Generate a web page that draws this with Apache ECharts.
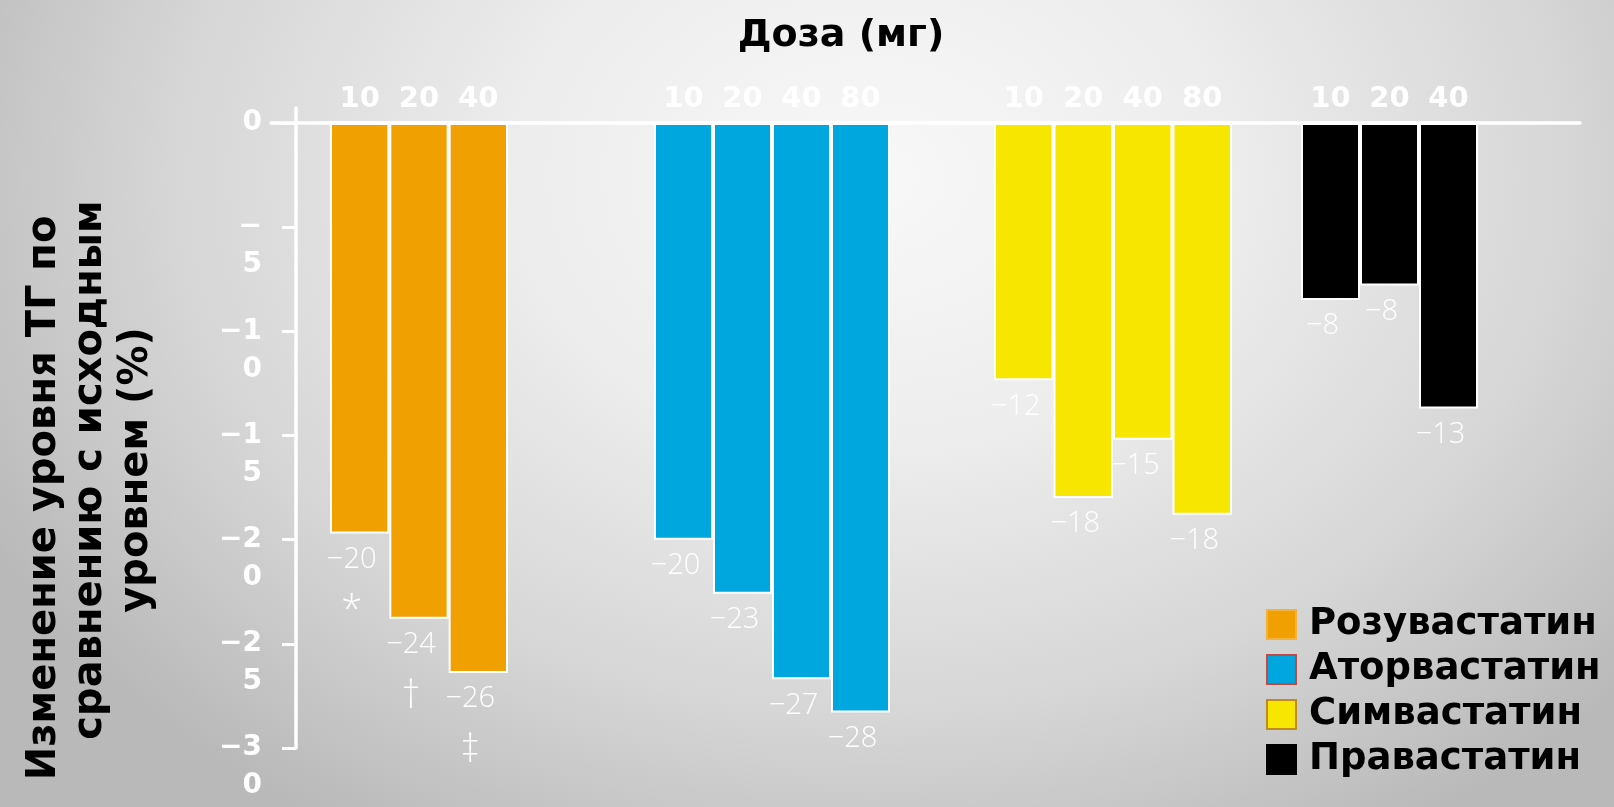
<!DOCTYPE html>
<html>
<head>
<meta charset="utf-8">
<script src="https://cdn.jsdelivr.net/npm/echarts@6/dist/echarts.min.js"></script>
<style>
html,body{margin:0;padding:0;width:1614px;height:807px;overflow:hidden;}
#chart{width:1614px;height:807px;background:radial-gradient(ellipse 62% 95% at 54% 22%, #f8f8f8 0%, #ededed 35%, #d6d6d6 70%, #b9b9b9 100%);}
</style>
</head>
<body>
<div id="chart"></div>
<script>
// ---- data ----
const dosesRosuvastatin = ['10', '20', '40'];
const dosesAtorvastatin = ['10', '20', '40', '80'];
const dosesSimvastatin = ['10', '20', '40', '80'];
const dosesPravastatin = ['10', '20', '40'];

const rosuvastatin = [-19.7, -23.8, -26.4];
const atorvastatin = [-20.0, -22.6, -26.7, -28.3];
const simvastatin = [-12.35, -18.0, -15.2, -18.8];
const pravastatin = [-8.5, -7.8, -13.7];

const labelsRosuvastatin = ['\u221220', '\u221224', '\u221226'];
const marksRosuvastatin = ['*', '\u2020', '\u2021'];
const labelsAtorvastatin = ['\u221220', '\u221223', '\u221227', '\u221228'];
const labelsSimvastatin = ['\u221212', '\u221218', '\u221215', '\u221218'];
const labelsPravastatin = ['\u22128', '\u22128', '\u221213'];

const yTickValues = [0, -5, -10, -15, -20, -25, -30];
const seriesNames = ['Розувастатин', 'Аторвастатин', 'Симвастатин', 'Правастатин'];
const titleText = 'Доза (мг)';
const yAxisTitle = 'Изменение уровня ТГ по\u00a0\u00a0\u00a0\u00a0\nсравнению с исходным\nуровнем (%)';

// ---- styles / layout ----
const colors = ['#f0a000', '#00a7df', '#f7e600', '#000000'];
const legendBorders = ['#f5b23a', '#be4b48', '#c08a1c', '#000000'];
const BOLD = "'DejaVu Sans', Verdana, sans-serif";
const LIGHT = "'Open Sans', 'Noto Sans', sans-serif";
const ZERO_Y = 123, BOTTOM = 59, STUB_TOP = 108;
const YMIN = -30, YMAX = 0, STUB_MAX = 0.72;
const PX_PER_UNIT = (807 - BOTTOM - ZERO_Y) / (YMAX - YMIN);
const TICK_MIN = -30.5; // slightly below -30 so the -30 tick lies inside the extent
const TICK_BOTTOM = BOTTOM - (YMIN - TICK_MIN) * PX_PER_UNIT;
const WRAP_SHIFT = 38;  // second line of the wrapped tick labels

const groups = [
  { name: seriesNames[0], doses: dosesRosuvastatin, values: rosuvastatin, labels: labelsRosuvastatin, marks: marksRosuvastatin, left: 330, width: 178 },
  { name: seriesNames[1], doses: dosesAtorvastatin, values: atorvastatin, labels: labelsAtorvastatin, marks: null, left: 654, width: 236 },
  { name: seriesNames[2], doses: dosesSimvastatin, values: simvastatin, labels: labelsSimvastatin, marks: null, left: 994, width: 238 },
  { name: seriesNames[3], doses: dosesPravastatin, values: pravastatin, labels: labelsPravastatin, marks: null, left: 1301, width: 177 }
];

function tickText(v) { return v === 0 ? '0' : '\u2212' + Math.abs(v); }

// grid 0: axis lines (vertical line runs a little above zero)
// grid 1: y ticks and first line of tick labels
// grid 2: second (wrapped) line of tick labels
const grid = [
  { left: 271, right: 34, top: STUB_TOP, bottom: BOTTOM },
  { left: 271, right: 34, top: ZERO_Y, bottom: TICK_BOTTOM },
  { left: 271, right: 34, top: ZERO_Y + WRAP_SHIFT, bottom: TICK_BOTTOM - WRAP_SHIFT }
];
const xAxis = [
  {
    gridIndex: 0, type: 'category', data: [''],
    axisLine: { show: true, onZero: true, lineStyle: { color: '#ffffff', width: 3.5 } },
    axisTick: { show: false }, axisLabel: { show: false }, splitLine: { show: false }
  },
  { gridIndex: 1, type: 'category', data: [''], show: false },
  { gridIndex: 2, type: 'category', data: [''], show: false }
];
const tickLabelStyle = {
  customValues: yTickValues, showMinLabel: true, showMaxLabel: true,
  margin: 34, color: '#ffffff', fontFamily: BOLD, fontWeight: 'bold', fontSize: 28,
  align: 'right', verticalAlign: 'middle'
};
const yAxis = [
  {
    gridIndex: 0, type: 'value', min: YMIN, max: STUB_MAX, offset: -25,
    axisLine: { show: true, lineStyle: { color: '#ffffff', width: 3.5 } },
    axisTick: { show: false }, axisLabel: { show: false }, splitLine: { show: false }
  },
  {
    gridIndex: 1, type: 'value', min: TICK_MIN, max: YMAX, offset: -25,
    axisLine: { show: false },
    axisTick: { show: true, length: 14, customValues: yTickValues, lineStyle: { color: '#ffffff', width: 3 } },
    splitLine: { show: false },
    axisLabel: Object.assign({}, tickLabelStyle, {
      formatter: function (v) { const s = tickText(v); return v === 0 ? s : s.slice(0, -1); }
    })
  },
  {
    gridIndex: 2, type: 'value', min: TICK_MIN, max: YMAX, offset: -25,
    axisLine: { show: false }, axisTick: { show: false }, splitLine: { show: false },
    axisLabel: Object.assign({}, tickLabelStyle, {
      formatter: function (v) { return v === 0 ? '' : tickText(v).slice(-1); }
    })
  }
];
const series = [];

groups.forEach(function (g, i) {
  const k = i + 3;
  grid.push({ left: g.left, width: g.width, top: ZERO_Y, bottom: BOTTOM });
  xAxis.push({
    gridIndex: k, type: 'category', data: g.doses, position: 'top',
    axisLine: { show: true, onZero: false, lineStyle: { color: '#ffffff', width: 3.5 } },
    axisTick: { show: false }, splitLine: { show: false },
    axisLabel: { interval: 0, margin: 9, color: '#ffffff', fontFamily: BOLD, fontWeight: 'bold', fontSize: 29 }
  });
  yAxis.push({ gridIndex: k, type: 'value', min: YMIN, max: YMAX, show: false, splitLine: { show: false } });
  series.push({
    name: g.name, type: 'bar', xAxisIndex: k, yAxisIndex: k,
    data: g.values, barCategoryGap: '0%',
    itemStyle: { color: colors[i], borderColor: '#ffffff', borderWidth: 2 },
    label: {
      show: true, position: 'bottom', distance: 0, offset: [-8, 0],
      color: '#ffffff', fontFamily: LIGHT, fontWeight: 300, fontSize: 29, lineHeight: 52,
      rich: {
        v: { color: '#ffffff', fontFamily: LIGHT, fontWeight: 300, fontSize: 29, lineHeight: 52 },
        m: { color: '#ffffff', fontFamily: LIGHT, fontWeight: 300, fontSize: 38, lineHeight: 52 }
      },
      formatter: function (p) {
        const t = '{v|' + g.labels[p.dataIndex] + '}';
        return g.marks ? t + '\n{m|' + g.marks[p.dataIndex] + '}' : t;
      }
    },
    emphasis: { disabled: true },
    animation: false
  });
});

const chart = echarts.init(document.getElementById('chart'));
chart.setOption({
  backgroundColor: 'transparent',
  animation: false,
  title: {
    text: titleText, left: 836, top: 12, textAlign: 'center',
    textStyle: { fontFamily: BOLD, fontWeight: 'bold', fontSize: 38, color: '#000000' }
  },
  legend: {
    orient: 'vertical', left: 1266, top: 606, padding: 0, itemWidth: 29, itemHeight: 29, itemGap: 8,
    icon: 'rect', selectedMode: false,
    data: seriesNames.map(function (n, i) {
      return { name: n, itemStyle: { color: colors[i], borderColor: legendBorders[i], borderWidth: 2 } };
    }),
    textStyle: { fontFamily: BOLD, fontWeight: 'bold', fontSize: 37, color: '#000000', padding: [0, 0, 0, 8] }
  },
  graphic: [{
    type: 'text', x: 91, y: 470, rotation: Math.PI / 2,
    style: {
      text: yAxisTitle, align: 'center', verticalAlign: 'middle',
      font: "bold 40px 'DejaVu Sans', Verdana, sans-serif", lineHeight: 46, fill: '#000000'
    }
  }],
  grid: grid, xAxis: xAxis, yAxis: yAxis, series: series
});
</script>
</body>
</html>
